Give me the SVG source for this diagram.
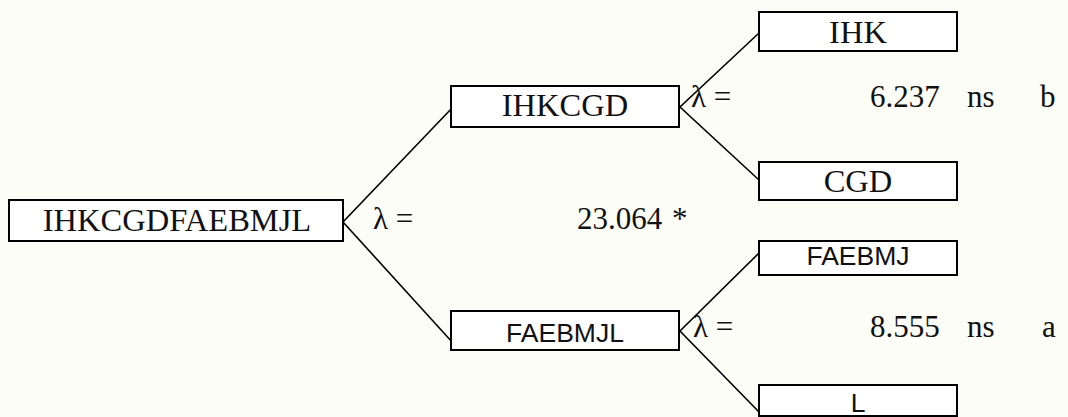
<svg xmlns="http://www.w3.org/2000/svg" width="1068" height="417" viewBox="0 0 1068 417">
  <style>
    .box { fill: #ffffff; stroke: #000000; stroke-width: 2; }
    .link { stroke: #000000; stroke-width: 1.6; fill: none; }
    .serif { font-family: "Liberation Serif", "Times New Roman", serif; font-size: 31px; fill: #111111; }
    .label { font-family: "Liberation Serif", "Times New Roman", serif; font-size: 32.5px; fill: #111111; text-anchor: middle; }
    .sans { font-family: "Liberation Sans", Arial, sans-serif; font-size: 26.5px; fill: #111111; text-anchor: middle; }
  </style>
  <rect x="0" y="0" width="1068" height="417" fill="#fdfdf8"/>

  <!-- tree branches -->
  <g id="connectors">
    <polyline class="link" points="453,107 343,222 453,343"/>
    <polyline class="link" points="759,33 680,107 759,180"/>
    <polyline class="link" points="759,253 680,331 759,412"/>
  </g>

  <g id="node-root">
    <rect class="box" x="9" y="200" width="334" height="41"/>
    <text class="label" x="177" y="231">IHKCGDFAEBMJL</text>
  </g>

  <g id="node-ihkcgd">
    <rect class="box" x="451" y="86" width="228" height="41"/>
    <text class="label" x="565" y="116">IHKCGD</text>
  </g>

  <g id="node-faebmjl">
    <rect class="box" x="451" y="311" width="228" height="39"/>
    <text class="sans" x="565" y="342">FAEBMJL</text>
  </g>

  <g id="node-ihk">
    <rect class="box" x="759" y="12" width="198" height="39"/>
    <text class="label" x="858" y="43">IHK</text>
  </g>

  <g id="node-cgd">
    <rect class="box" x="759" y="162" width="198" height="38"/>
    <text class="label" x="858" y="192">CGD</text>
  </g>

  <g id="node-faebmj">
    <rect class="box" x="759" y="241" width="198" height="34"/>
    <text class="sans" x="858" y="265">FAEBMJ</text>
  </g>

  <g id="node-l">
    <rect class="box" x="759" y="385" width="198" height="31"/>
    <text class="sans" x="858" y="412">L</text>
  </g>

  <!-- split statistics -->
  <g id="stat-root">
    <text class="serif" x="373" y="229">λ =</text>
    <text class="serif" x="577" y="229">23.064</text>
    <text class="serif" x="672" y="229">*</text>
  </g>

  <g id="stat-ihkcgd">
    <text class="serif" x="691" y="107">λ =</text>
    <text class="serif" x="870" y="107">6.237</text>
    <text class="serif" x="967" y="107">ns</text>
    <text class="serif" x="1040" y="107">b</text>
  </g>

  <g id="stat-faebmjl">
    <text class="serif" x="693" y="337" font-size="24">λ =</text>
    <text class="serif" x="870" y="337">8.555</text>
    <text class="serif" x="967" y="337">ns</text>
    <text class="serif" x="1042" y="337">a</text>
  </g>
</svg>
